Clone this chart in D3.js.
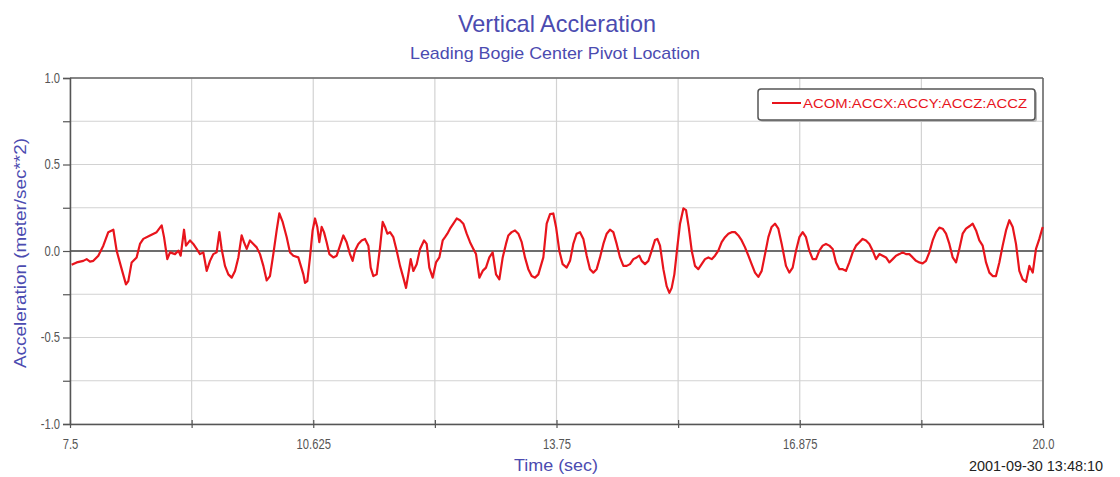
<!DOCTYPE html>
<html><head><meta charset="utf-8">
<script src="https://cdn.jsdelivr.net/npm/d3@7"></script>
<style>body{margin:0;background:#fff}svg{display:block}text{font-family:"Liberation Sans Narrow","Liberation Sans",Arial,sans-serif}</style>
</head><body>
<script>
const title = "Vertical Accleration";
const subtitle = "Leading Bogie Center Pivot Location";
const yLabel = "Acceleration (meter/sec**2)";
const xLabel = "Time (sec)";
const stamp = "2001-09-30 13:48:10";
const seriesName = "ACOM:ACCX:ACCY:ACCZ:ACCZ";
const xTickValues = [7.5, 10.625, 13.75, 16.875, 20.0];
const xTickLabels = ["7.5", "10.625", "13.75", "16.875", "20.0"];
const xGridValues = [7.5, 9.0625, 10.625, 12.1875, 13.75, 15.3125, 16.875, 18.4375, 20.0];
const yTickValues = [1.0, 0.5, 0.0, -0.5, -1.0];
const yTickLabels = ["1.0", "0.5", "0.0", "-0.5", "-1.0"];
const yGridValues = [1.0, 0.75, 0.5, 0.25, 0, -0.25, -0.5, -0.75, -1.0];

const times = [7.521,7.586,7.671,7.714,7.757,7.800,7.864,7.928,7.992,8.057,8.099,8.164,8.219,8.249,8.292,8.356,8.399,8.442,8.528,8.613,8.656,8.678,8.708,8.750,8.785,8.849,8.892,8.922,8.965,8.990,9.042,9.084,9.127,9.170,9.213,9.256,9.299,9.341,9.384,9.419,9.448,9.491,9.534,9.577,9.620,9.663,9.705,9.735,9.770,9.812,9.855,9.898,9.941,9.984,10.027,10.069,10.112,10.155,10.189,10.232,10.284,10.326,10.369,10.433,
10.498,10.519,10.549,10.583,10.617,10.648,10.677,10.703,10.733,10.763,10.797,10.832,10.883,10.926,10.969,11.012,11.054,11.097,11.131,11.161,11.204,11.247,11.290,11.333,11.363,11.397,11.440,11.483,11.517,11.547,11.577,11.611,11.654,11.697,11.740,11.782,11.817,11.846,11.877,11.911,11.954,11.997,12.048,12.082,12.116,12.159,12.202,12.245,12.288,12.318,12.348,12.382,12.425,12.468,12.510,12.553,12.596,12.639,12.682,12.716,12.759,12.802,12.844,12.887,12.930,12.973,13.016,13.059,13.101,13.131,13.174,13.217,13.260,13.303,13.345,13.388,13.431,13.474,13.517,
13.581,13.624,13.667,13.709,13.744,13.786,13.829,13.881,13.924,13.966,14.009,14.052,14.095,14.138,14.180,14.223,14.266,14.309,14.352,14.395,14.437,14.480,14.523,14.566,14.609,14.652,14.694,14.737,14.780,14.814,14.844,14.887,14.930,14.973,15.016,15.046,15.080,15.123,15.165,15.200,15.230,15.264,15.302,15.337,15.380,15.414,15.448,15.487,15.529,15.572,15.615,15.658,15.701,15.744,15.786,15.829,15.872,15.915,15.958,16.000,16.043,16.086,16.129,16.172,16.215,16.257,16.300,16.343,16.386,16.429,16.472,16.514,16.557,16.600,16.643,
16.698,16.741,16.784,16.827,16.870,16.913,16.955,16.998,17.041,17.084,17.127,17.170,17.212,17.255,17.298,17.341,17.384,17.427,17.469,17.512,17.555,17.598,17.641,17.683,17.726,17.769,17.812,17.855,17.898,17.940,17.983,18.026,18.069,18.112,18.155,18.197,18.240,18.283,18.326,18.369,18.411,18.454,18.497,18.540,18.583,18.626,18.668,18.711,18.754,18.797,18.840,18.883,18.925,18.968,19.011,19.054,19.097,19.140,19.182,19.225,19.268,19.311,19.354,19.396,19.439,19.482,19.525,19.568,19.611,19.653,19.696,19.739,19.782,19.825,19.868,19.910,19.953,19.996];
const accel = [-0.080,-0.066,-0.057,-0.047,-0.061,-0.057,-0.027,0.031,0.109,0.123,0.002,-0.105,-0.193,-0.174,-0.066,-0.037,0.041,0.070,0.090,0.109,0.135,0.148,0.080,-0.047,-0.008,-0.018,0.002,-0.027,0.123,0.031,0.061,0.041,0.012,-0.018,-0.008,-0.115,-0.057,-0.018,-0.008,0.109,0.012,-0.086,-0.135,-0.154,-0.115,-0.037,0.090,0.051,0.012,0.061,0.041,0.021,-0.018,-0.086,-0.170,-0.145,-0.018,0.119,0.217,0.168,0.080,-0.008,-0.027,-0.037,
-0.135,-0.184,-0.174,-0.037,0.119,0.188,0.139,0.051,0.139,0.109,0.051,-0.018,-0.037,-0.027,0.031,0.090,0.051,-0.018,-0.057,0.002,0.041,0.061,0.070,0.031,-0.096,-0.145,-0.135,0.021,0.168,0.139,0.100,0.109,0.080,0.002,-0.086,-0.154,-0.213,-0.135,-0.047,-0.115,-0.076,0.012,0.061,0.041,-0.096,-0.154,-0.066,-0.037,0.061,0.080,0.100,0.129,0.158,0.188,0.178,0.158,0.100,0.051,0.012,-0.018,-0.154,-0.115,-0.096,-0.037,-0.008,-0.135,-0.164,-0.037,0.041,0.090,0.109,0.119,0.100,0.051,-0.037,-0.105,-0.145,-0.154,-0.135,
-0.037,0.158,0.213,0.217,0.139,0.002,-0.076,-0.096,-0.057,0.041,0.100,0.109,0.070,-0.027,-0.105,-0.125,-0.105,-0.037,0.041,0.100,0.123,0.109,0.041,-0.037,-0.086,-0.086,-0.076,-0.047,-0.037,-0.027,-0.057,-0.076,-0.057,0.002,0.064,0.070,0.031,-0.105,-0.203,-0.242,-0.213,-0.135,0.021,0.158,0.246,0.236,0.139,0.002,-0.086,-0.105,-0.076,-0.047,-0.037,-0.047,-0.027,0.002,0.051,0.080,0.100,0.109,0.109,0.090,0.061,0.021,-0.027,-0.076,-0.125,-0.150,-0.115,-0.018,0.080,0.139,0.158,0.129,0.041,
-0.086,-0.125,-0.096,0.002,0.080,0.109,0.080,0.002,-0.047,-0.047,0.002,0.031,0.041,0.031,0.012,-0.066,-0.105,-0.105,-0.115,-0.066,-0.008,0.031,0.051,0.070,0.061,0.041,0.002,-0.047,-0.018,-0.027,-0.037,-0.066,-0.047,-0.027,-0.018,-0.008,-0.018,-0.018,-0.037,-0.057,-0.066,-0.072,-0.057,-0.008,0.061,0.109,0.135,0.129,0.100,0.041,-0.037,-0.066,0.012,0.100,0.129,0.143,0.158,0.119,0.061,0.031,-0.066,-0.125,-0.145,-0.145,-0.066,0.031,0.119,0.178,0.139,0.041,-0.115,-0.164,-0.178,-0.086,-0.125,0.012,0.070,0.139];

const W = 1120, H = 477;
const m = {l: 70, r: 1043, t: 78, b: 424};
const svg = d3.select("body").append("svg").attr("width", W).attr("height", H);
const x = d3.scaleLinear().domain([7.5, 20]).range([m.l, m.r]);
const y = d3.scaleLinear().domain([-1, 1]).range([m.b, m.t]);
const blue = "#4b4bb0";

function condense(sel, f) {
  sel.each(function() {
    const L = this.getComputedTextLength();
    if (L > 0) d3.select(this).attr("textLength", L * f).attr("lengthAdjust", "spacingAndGlyphs");
  });
}

// grid
svg.append("g").selectAll("line").data(xGridValues).join("line")
  .attr("x1", d => x(d)).attr("x2", d => x(d)).attr("y1", m.t).attr("y2", m.b)
  .attr("stroke", "#d2d2d2").attr("stroke-width", 1.2);
svg.append("g").selectAll("line").data(yGridValues).join("line")
  .attr("x1", m.l).attr("x2", m.r).attr("y1", d => y(d)).attr("y2", d => y(d))
  .attr("stroke", "#d2d2d2").attr("stroke-width", 1.2);

// frame top/right
svg.append("line").attr("x1", m.l).attr("x2", m.r).attr("y1", m.t).attr("y2", m.t).attr("stroke", "#666").attr("stroke-width", 1.5);
svg.append("line").attr("x1", m.r).attr("x2", m.r).attr("y1", m.t).attr("y2", m.b).attr("stroke", "#666").attr("stroke-width", 1.5);

// zero line
svg.append("line").attr("x1", m.l).attr("x2", m.r).attr("y1", y(0)).attr("y2", y(0)).attr("stroke", "#444").attr("stroke-width", 1.6);

// axes
const yAxis = d3.axisLeft(y).tickValues(yGridValues).tickSize(7).tickFormat(d => {
  const i = yTickValues.indexOf(d); return i >= 0 ? yTickLabels[i] : "";
}).tickPadding(3);
const gy = svg.append("g").attr("transform", `translate(${m.l},0)`).call(yAxis);
gy.select(".domain").attr("stroke", "#555").attr("stroke-width", 1.5);
gy.selectAll(".tick line").attr("stroke", "#555").attr("stroke-width", 1.2);
gy.selectAll(".tick text").attr("fill", "#555").style("font-size", "14px").style("font-family", "Liberation Sans, Arial, sans-serif");
condense(gy.selectAll(".tick text"), 0.8);

const xAxis = d3.axisBottom(x).tickValues(xGridValues).tickSizeInner(4).tickSizeOuter(0).tickFormat(d => {
  const i = xTickValues.indexOf(d); return i >= 0 ? xTickLabels[i] : "";
}).tickPadding(11);
const gx = svg.append("g").attr("transform", `translate(0,${m.b})`).call(xAxis);
gx.select(".domain").attr("stroke", "#555").attr("stroke-width", 1.5);
gx.selectAll(".tick line").attr("stroke", "#555").attr("stroke-width", 1.2).attr("y1", -4).attr("y2", 4);
gx.selectAll(".tick text").attr("fill", "#555").style("font-size", "14px").style("font-family", "Liberation Sans, Arial, sans-serif");
condense(gx.selectAll(".tick text"), 0.8);

// series
const pts = times.map((t, i) => [t, accel[i]]);
svg.append("path").datum(pts)
  .attr("fill", "none").attr("stroke", "#e8141c").attr("stroke-width", 2.2).attr("stroke-linejoin", "round")
  .attr("d", d3.line().x(d => x(d[0])).y(d => y(d[1])));

// titles
svg.append("text").attr("x", 557).attr("y", 32).attr("text-anchor", "middle").attr("fill", blue)
  .style("font-size", "24px").attr("textLength", 198).attr("lengthAdjust", "spacingAndGlyphs").text(title);
svg.append("text").attr("x", 555).attr("y", 59).attr("text-anchor", "middle").attr("fill", blue)
  .style("font-size", "17px").attr("textLength", 290).attr("lengthAdjust", "spacingAndGlyphs").text(subtitle);
svg.append("text").attr("transform", "translate(26,253) rotate(-90)").attr("text-anchor", "middle").attr("fill", blue)
  .style("font-size", "17px").attr("textLength", 230).attr("lengthAdjust", "spacingAndGlyphs").text(yLabel);
svg.append("text").attr("x", 556).attr("y", 471).attr("text-anchor", "middle").attr("fill", blue)
  .style("font-size", "17px").attr("textLength", 84).attr("lengthAdjust", "spacingAndGlyphs").text(xLabel);
svg.append("text").attr("x", 1103).attr("y", 471).attr("text-anchor", "end").attr("fill", "#222")
  .style("font-size", "14px").attr("textLength", 134).attr("lengthAdjust", "spacingAndGlyphs").text(stamp);

// legend
const lg = svg.append("g");
lg.append("rect").attr("x", 760).attr("y", 91).attr("width", 277).attr("height", 31).attr("rx", 3)
  .attr("fill", "#bbb");
lg.append("rect").attr("x", 758).attr("y", 89).attr("width", 277).attr("height", 31).attr("rx", 3)
  .attr("fill", "#fff").attr("stroke", "#555").attr("stroke-width", 1.5);
lg.append("line").attr("x1", 772).attr("x2", 801).attr("y1", 103).attr("y2", 103).attr("stroke", "#e8141c").attr("stroke-width", 2);
lg.append("text").attr("x", 803).attr("y", 108).attr("fill", "#e8141c").style("font-size", "12px")
  .attr("textLength", 224).attr("lengthAdjust", "spacingAndGlyphs").text(seriesName);
</script>
</body></html>
